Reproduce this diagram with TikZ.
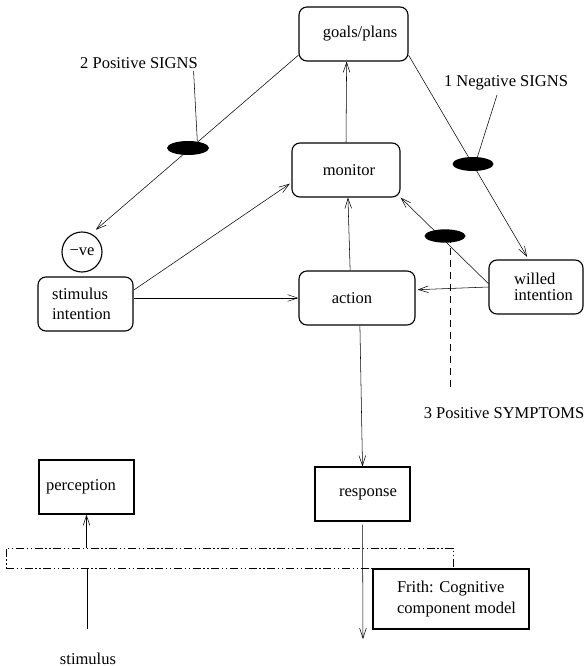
\documentclass[tikz,border=0pt]{standalone}
\usepackage{fontspec}
\setmainfont{Liberation Serif}
\usetikzlibrary{shapes.geometric,arrows.meta,calc}
\pgfdeclarelayer{fg}
\pgfsetlayers{main,fg}
\begin{document}
\begin{tikzpicture}[x=0.75pt,y=-0.75pt, line width=0.85pt,
  >={Straight Barb[length=7.5pt,width=5pt]},
  font=\fontsize{12.4}{15}\selectfont,
  rbox/.style={draw, rounded corners=6pt, inner sep=0pt},
  sbox/.style={draw, inner sep=0pt},
  blob/.style={ellipse, fill=black, draw=none, inner sep=0pt},
  lbl/.style={inner sep=0pt},
  dashline/.style={dash pattern=on 5.5pt off 3.5pt},
  dotdash/.style={dash pattern=on 6pt off 2pt on 1pt off 2pt on 1pt off 2pt}]
\useasboundingbox (0,0) rectangle (584,666);

% boxes
\node[rbox, minimum width=81.75pt, minimum height=40.5pt] (goals) at (353.5,34) {\hspace*{9.75pt}goals/plans};
\node[rbox, minimum width=81pt, minimum height=40.5pt] (monitor) at (346,170) {\hspace*{4.5pt}monitor};
\node[rbox, minimum width=71.25pt, minimum height=40.5pt, align=left,
      font=\fontsize{12.4}{15}\selectfont] (stimint) at (85.5,304) {stimulus\hspace*{6pt}\\intention\hspace*{6pt}};
\node[rbox, minimum width=87pt, minimum height=40.5pt] (action) at (357,298) {action\hspace*{7.5pt}};
\node[rbox, minimum width=70.5pt, minimum height=40.5pt, align=left,
      font=\fontsize{12.4}{12}\selectfont] (willed) at (536,287) {\hspace*{11.25pt}willed\\\hspace*{11.25pt}intention};
\node[sbox, minimum width=71.25pt, minimum height=40.5pt] (perception) at (86.5,487) {\raisebox{3pt}{perception}\hspace*{8.25pt}};
\node[sbox, minimum width=71.25pt, minimum height=40.5pt] (response) at (362.5,494) {\hspace*{8.25pt}response};
\node[draw, circle, minimum size=30pt, inner sep=0pt] (ve) at (82,252) {−ve};

% dash-dot box and note box
\node[draw, dotdash, line width=0.7pt, minimum width=335.25pt, minimum height=15pt, inner sep=0pt] (dbox) at (229.5,558) {};
\node[sbox, minimum width=117pt, minimum height=45pt, align=left,
      font=\fontsize{12.4}{16.3}\selectfont] (frith) at (451,599) {\hspace*{8.25pt}Frith: Cognitive\\\hspace*{8.25pt}component model};

% black ellipses (drawn above the connectors)
\begin{pgfonlayer}{fg}
\node[blob, minimum width=31.5pt, minimum height=10.5pt] (e1) at (188,148) {};
\node[blob, minimum width=30.75pt, minimum height=10.5pt] (e2) at (473,164) {};
\node[blob, minimum width=30.75pt, minimum height=10pt] (e3) at (445,236) {};
\end{pgfonlayer}

% labels
\node[lbl, anchor=base] (l2) at (139,68.5) {2 Positive SIGNS};
\node[lbl, anchor=base] (l1) at (506,86.5) {1 Negative SIGNS};
\node[lbl, anchor=base] (l3) at (504,418) {3 Positive SYMPTOMS};
\node[lbl, anchor=base] (stim) at (88,664) {stimulus};

% free ends
\coordinate (dend) at (450,388);
\coordinate (rout) at (363,639);
\coordinate (sbot) at (87,629);

\draw[->, shorten >=4.5pt] (goals.201) -- (ve.63);
\draw[->, shorten >=2.25pt] (goals.339) -- (willed.105);
\draw ($(l2.base east)+(-4.5,2.5)$) -- (e1.35);
\draw ($(l1.base)+(-9,8.5)$) -- (e2.58);
\draw[dashline] ($(e3.center)+(5,0)$) -- (dend);
\draw[->] (willed.176) -- (monitor.south east);
\draw[->, shorten >=1.5pt] (willed.west) -- (action.8);
\draw[->] (stimint.east |- action.west) -- (action.west);
\draw[->, shorten >=1.5pt] (stimint.16.4) -- (monitor.193.5);
\draw[->] (action.104.5) -- (monitor.274);
\draw[->] (monitor.north) -- (goals.256.5);
\draw[->] (action.276) -- (response.north);
\draw[->, shorten <=2.25pt] (response.south) -- (rout);
\draw (sbot) -- (sbot |- dbox.south);
\draw[->] (perception.south |- dbox.north) -- (perception.south);
\end{tikzpicture}
\end{document}
